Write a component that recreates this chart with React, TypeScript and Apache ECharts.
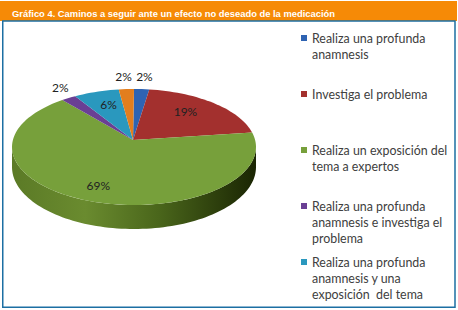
import React, { useEffect, useRef } from "react";
import * as echarts from "echarts";

const titleText = "Gráfico 4. Caminos a seguir ante un efecto no deseado de la medicación";
const categories = [
  "Realiza una profunda anamnesis",
  "Investiga el problema",
  "Realiza un exposición del tema a expertos",
  "Realiza una profunda anamnesis e investiga el problema",
  "Realiza una profunda anamnesis y una exposición del tema",
  "Otros",
];
const legendLabels = [
  "Realiza una profunda\nanamnesis",
  "Investiga el problema",
  "Realiza un exposición del\ntema a expertos",
  "Realiza una profunda\nanamnesis e investiga el\nproblema",
  "Realiza una profunda\nanamnesis y una\nexposición  del tema",
];
const values = [2, 19, 69, 2, 6, 2];
const colors = ["#2E63B2", "#A3302E", "#77A03B", "#6A3F94", "#2A98BE", "#E27E1E"];

// layout of the tilted pie
const CX = 134, CY = 147, RX = 122, RY = 58;
const AX = 133, AY = 140;
const BCY = 167, BRY = 62;
const LH = 16;

const total = values.reduce((a, b) => a + b, 0);
const starts = values.map((_, i) => values.slice(0, i).reduce((a, b) => a + b, 0));

function pt(deg: number, cy: number, rx: number, ry: number) {
  const r = (deg * Math.PI) / 180;
  return [CX + rx * Math.sin(r), cy - ry * Math.cos(r)];
}

function makeRender(idx: number) {
  return (params: any, api: any) => {
    let v = api.value(0);
    if (isNaN(v)) v = values[idx];
    const color = api.visual("color");
    const a0 = (starts[idx] / total) * 360;
    const a1 = a0 + (v / total) * 360;
    const children: any[] = [];
    // side wall (front only)
    const s0 = Math.max(a0, 90), s1 = Math.min(a1, 270);
    if (s1 > s0) {
      const n = Math.ceil((s1 - s0) / 2);
      const upper: number[][] = [];
      const lower: number[][] = [];
      for (let k = 0; k <= n; k++) {
        const d = s0 + ((s1 - s0) * k) / n;
        upper.push(pt(d, CY, RX, RY));
        lower.push(pt(d, BCY, RX, BRY));
      }
      children.push({
        type: "polygon",
        z2: 1,
        silent: true,
        shape: { points: upper.concat(lower.reverse()) },
        style: {
          fill: new echarts.graphic.LinearGradient(
            CX - RX, 0, CX + RX, 0,
            [
              { offset: 0, color: "#5b7a26" },
              { offset: 0.3, color: "#6a8b2f" },
              { offset: 0.6, color: "#4a661b" },
              { offset: 1, color: "#1a2503" },
            ],
            true
          ),
        },
      });
    }
    // top face
    const n = Math.max(2, Math.ceil((a1 - a0) / 2));
    const top: number[][] = [[AX, AY]];
    for (let k = 0; k <= n; k++) top.push(pt(a0 + ((a1 - a0) * k) / n, CY, RX, RY));
    children.push({
      type: "polygon",
      z2: 10,
      silent: true,
      shape: { points: top },
      style: { fill: color },
    });
    // label
    const share = v / total;
    const mid = (a0 + a1) / 2;
    const r = (mid * Math.PI) / 180;
    let lx: number, ly: number;
    if (share < 0.04) {
      const p = pt(mid, CY, RX + 12, RY + 13);
      lx = p[0] + 2 * Math.sign(Math.sin(r));
      ly = p[1];
    } else {
      const f = share > 0.5 ? 0.84 : 0.65;
      lx = AX + f * RX * Math.sin(r);
      ly = AY - f * RY * Math.cos(r);
    }
    children.push({
      type: "text",
      z2: 20,
      silent: true,
      x: lx,
      y: ly,
      style: {
        text: Math.round(share * 100) + "%",
        fill: "#222222",
        fontSize: 12,
        fontFamily: "Lato",
        align: "center",
        verticalAlign: "middle",
      },
    });
    return { type: "group", children };
  };
}

export default function App() {
  const ref = useRef<HTMLDivElement>(null);
  useEffect(() => {
    if (!ref.current) return;
    const chart = echarts.init(ref.current, undefined, { renderer: "svg" });
    const legends = legendLabels.map((lab, i) => {
      const lines = lab.split("\n").length;
      const y1 = 38 + i * 56;
      // leading blank lines keep the first text line level with the marker
      const shown = "\n".repeat(lines - 1) + lab;
      return {
        data: [categories[i]],
        orient: "vertical",
        left: 301,
        top: y1 - ((2 * lines - 1) * LH) / 2,
        padding: 0,
        itemWidth: 6,
        itemHeight: 6,
        itemGap: 0,
        textGap: 5,
        itemStyle: { borderWidth: 0 },
        icon: "rect",
        selectedMode: false,
        formatter: () => shown,
        textStyle: {
          color: "#404040",
          fontFamily: "Lato",
          fontSize: 12.4,
          lineHeight: LH,
        },
      };
    });
    chart.setOption({
      animation: false,
      backgroundColor: "#ffffff",
      title: {
        text: titleText,
        left: 12,
        top: 8,
        padding: 0,
        textStyle: {
          color: "#ffffff",
          fontSize: 9.4,
          fontWeight: "bold",
          fontFamily: "Liberation Sans",
          lineHeight: 11,
        },
      },
      legend: legends,
      graphic: [
        {
          type: "rect",
          z: 0,
          silent: true,
          shape: { x: 0, y: 1, width: 457, height: 20 },
          style: { fill: "#F68A06" },
        },
        {
          type: "rect",
          z: 0,
          silent: true,
          shape: { x: 2.75, y: 21, width: 452.25, height: 286.25 },
          style: { fill: "none", stroke: "#1C6FA3", lineWidth: 1.5 },
        },
      ],
      series: values.map((v, i) => ({
        type: "custom",
        name: categories[i],
        coordinateSystem: "none",
        itemStyle: { color: colors[i] },
        renderItem: makeRender(i),
        data: [v],
      })),
    });
    return () => chart.dispose();
  }, []);
  return (
    <div
      ref={ref}
      style={{ position: "absolute", left: 0, top: 0, width: 458, height: 310 }}
    />
  );
}
